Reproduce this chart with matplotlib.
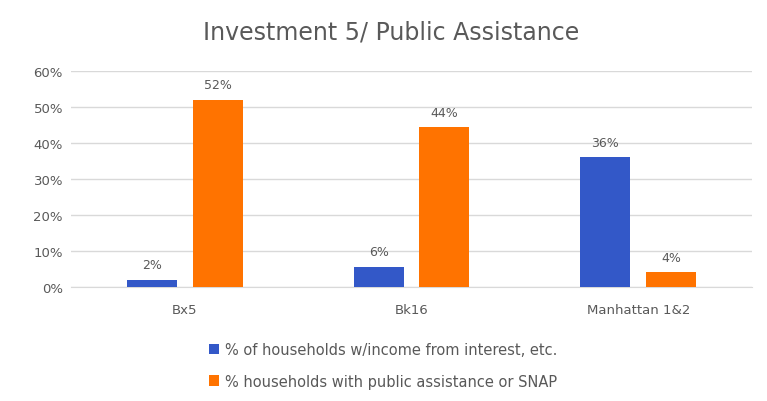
import numpy as np
import matplotlib
matplotlib.use("Agg")
import matplotlib.pyplot as plt

# Chart data
#
categories = ["Bx5", "Bk16", "Manhattan 1&2"]
interest_share = [0.02, 0.056, 0.36]
assistance_share = [0.52, 0.444, 0.04]
series_names = [
    "% of households w/income from interest, etc.",
    "% households with public assistance or SNAP",
]
y_ticks = [0, 0.1, 0.2, 0.3, 0.4, 0.5, 0.6]

blue = "#3358c8"
orange = "#ff7300"
text_gray = "#595959"

fig = plt.figure(figsize=(7.67, 4.02), dpi=100)
ax = fig.add_axes([0.093, 0.284, 0.887, 0.537])

x = np.arange(len(categories))
width = 0.22
offset = 0.145

bars_a = ax.bar(x - offset, interest_share, width, color=blue, label=series_names[0], zorder=3)
bars_b = ax.bar(x + offset, assistance_share, width, color=orange, label=series_names[1], zorder=3)

# Data labels above each bar
#
for bars in (bars_a, bars_b):
    for bar in bars:
        h = bar.get_height()
        ax.annotate(f"{h:.0%}", (bar.get_x() + bar.get_width() / 2, h),
                    xytext=(0, 6), textcoords="offset points",
                    ha="center", va="bottom", fontsize=9, color=text_gray)

ax.set_xlim(-0.5, len(categories) - 0.5)
ax.set_ylim(0, 0.6)
ax.set_yticks(y_ticks)
ax.set_yticklabels([f"{t:.0%}" for t in y_ticks])
ax.set_xticks(x)
ax.set_xticklabels(categories)
ax.tick_params(axis="both", length=0, labelsize=9.5, colors=text_gray)
ax.tick_params(axis="x", pad=12)
ax.tick_params(axis="y", pad=6)

ax.grid(axis="y", color="#d9d9d9", linewidth=1, zorder=0)
for side in ("top", "right", "left"):
    ax.spines[side].set_visible(False)
ax.spines["bottom"].set_color("#d9d9d9")

fig.suptitle("Investment 5/ Public Assistance", x=0.51, y=0.95,
             fontsize=17, color=text_gray)

fig.legend(loc="upper left", bbox_to_anchor=(0.255, 0.18),
           frameon=False, fontsize=10.5, handlelength=0.7, handleheight=0.7,
           handletextpad=0.4, labelspacing=1.15, labelcolor=text_gray)

plt.savefig("out.png", dpi=100, facecolor="white")
plt.close(fig)
